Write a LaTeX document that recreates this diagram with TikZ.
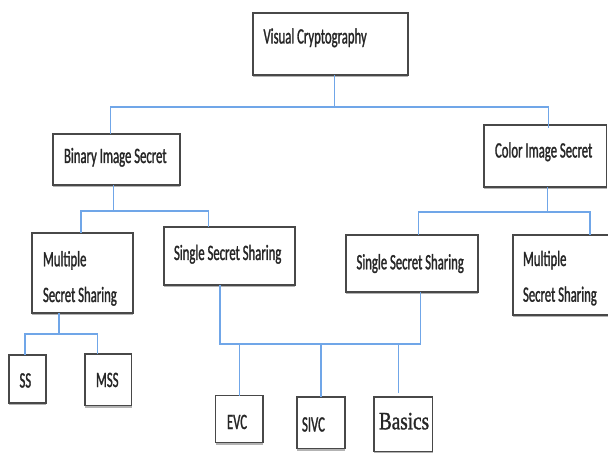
\documentclass[tikz,border=0pt]{standalone}
\usepackage{fontspec}
\setmainfont{Carlito}[FakeStretch=0.58,FakeBold=1.2]
\newfontfamily\basicsfont{Liberation Serif}[FakeStretch=0.77,FakeBold=1.2]
\usetikzlibrary{calc,shadows}
\definecolor{linkblue}{RGB}{112,166,232}
\definecolor{boxedge}{RGB}{72,72,72}
\definecolor{inkgray}{RGB}{38,38,38}

% box helper: name, left, top, right, bottom (pixel units, y downwards)
\newcommand\rectnode[5]{%
  \node[box, minimum width={(#4-#2)*1bp}, minimum height={(#5-#3)*1bp}]
    (#1) at ({(#2+#4)/2},{(#3+#5)/2}) {};}

\begin{document}
\begin{tikzpicture}[x=1bp,y=-1bp,
  box/.style={draw=boxedge, line width=1.5bp, fill=white, inner sep=0pt, outer sep=0pt,
    drop shadow={shadow xshift=0bp, shadow yshift=-2bp, fill=black!50, opacity=0.6}},
  lbl/.style={anchor=base west, inner sep=0pt, outer sep=0pt, text=inkgray,
    font=\fontsize{22}{26}\selectfont},
  serlbl/.style={lbl, font=\fontsize{25}{28}\selectfont\basicsfont},
  link/.style={draw=linkblue, line width=1.2bp}]
\useasboundingbox (0,0) rectangle (608,453);

% boxes
\rectnode{vc}{253}{13}{408}{75}
\rectnode{bis}{53}{134}{180}{185}
\rectnode{cis}{484}{125}{606.5}{187}
\rectnode{msl}{32}{233}{133}{313}
\rectnode{ssl}{164}{227}{295}{285}
\rectnode{ssr}{346}{235}{478}{292}
\rectnode{msr}{513}{235}{616}{315}
\rectnode{ss}{9}{355}{46}{403}
\rectnode{mss}{85}{354}{131.5}{405.5}
\rectnode{evc}{215.5}{395.5}{263}{442.5}
\rectnode{sivc}{297}{397}{345}{448.5}
\rectnode{basics}{374}{397}{432.5}{451.5}

% labels
\node[lbl] (vct) at (263.5,43.5) {Visual Cryptography};
\node[lbl] (bist) at (64,163) {Binary Image Secret};
\node[lbl] (cist) at (495,157.5) {Color Image Secret};
\node[lbl] (mslt1) at (43,266.3) {Multiple};
\node[lbl] (mslt2) at (43,302) {Secret Sharing};
\node[lbl] (sslt) at (174,260) {Single Secret Sharing};
\node[lbl] (ssrt) at (356.5,269.3) {Single Secret Sharing};
\node[lbl] (msrt1) at (523,266) {Multiple};
\node[lbl] (msrt2) at (523,301.7) {Secret Sharing};
\node[lbl] (sst) at (19.5,387.5) {SS};
\node[lbl] (msst) at (96,387) {MSS};
\node[lbl] (evct) at (227,429) {EVC};
\node[lbl] (sivct) at (302,431.5) {SIVC};
\node[serlbl] (basicst) at (379,429.3) {Basics};

% connectors
\draw[link] ($(vc.south)+(4,0)$) -- ++(0,32) coordinate (j1);
\draw[link] ($(bis.north)+(-6,0)$) |- (j1) -| ($(cis.north)+(3,3)$);

\draw[link] ($(bis.south)+(-3,0)$) -- ++(0,26) coordinate (j2);
\draw[link] ($(msl.north)+(-1.5,0)$) |- (j2) -| ($(ssl.north)+(-21,0)$);

\draw[link] ($(cis.south)+(2.5,0)$) -- ++(0,25) coordinate (j3);
\draw[link] ($(ssr.north)+(6.5,0)$) |- (j3) -| ($(msr.north)+(25.5,0)$);

\draw[link] ($(ssl.south)+(-9.5,0)$) |- ($(ssr.south)+(8.5,52)$) coordinate (j4) -- ($(ssr.south)+(8.5,0)$);
\draw[link] (evc.north) |- (j4);
\draw[link] (sivc.north) |- (j4);
\draw[link] ($(basics.north)+(-5,-4)$) |- (j4);

\draw[link] ($(msl.south)+(-23.5,0)$) -- ++(0,21) coordinate (j5);
\draw[link] ($(ss.north)+(-2.5,0)$) |- (j5) -| ($(mss.north)+(-11,0)$);
\end{tikzpicture}
\end{document}
